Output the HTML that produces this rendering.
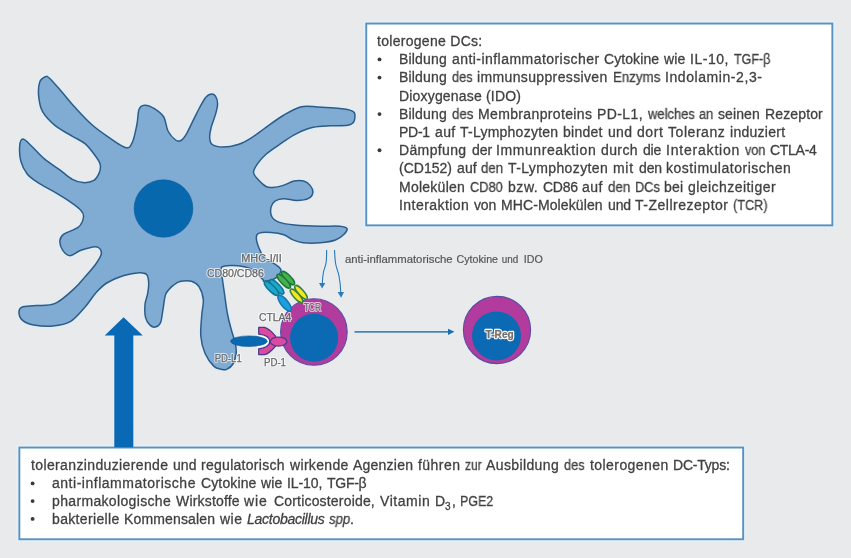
<!DOCTYPE html>
<html><head><meta charset="utf-8">
<style>
html,body{margin:0;padding:0;}
body{width:851px;height:558px;background:#e9eaec;overflow:hidden;position:relative;font-family:"Liberation Sans",sans-serif;}
svg{position:absolute;left:0;top:0;will-change:transform;}
.box{position:absolute;background:#fff;border:1.9px solid #5f98c4;box-sizing:border-box;box-shadow:0 0 0 1.6px rgba(226,242,252,.85);}
.ln{position:absolute;white-space:nowrap;color:#3f3f3f;font-size:14px;line-height:18px;will-change:transform;transform-origin:0 0;-webkit-text-stroke:0.3px #444;}
.bu{position:absolute;width:3.6px;height:3.6px;border-radius:50%;background:#3f3f3f;}
.lab{font-family:"Liberation Sans",sans-serif;font-size:10px;fill:#666;stroke:#666;stroke-width:.25px;}
.cap{font-family:"Liberation Sans",sans-serif;font-size:11.2px;fill:#555;stroke:#555;stroke-width:.2px;}
.halo{font-family:"Liberation Sans",sans-serif;font-size:10px;fill:#fff;stroke:#fff;stroke-width:2.2px;stroke-linejoin:round;stroke-opacity:.7;fill-opacity:.7;filter:blur(.3px);}
</style></head><body>
<svg width="851" height="558" viewBox="0 0 851 558">
<path d="M45.3 76.8C46.9 76.1 46.7 75.7 49.5 78.2C52.3 80.7 57.6 87.1 61.9 92.0C66.2 96.9 70.2 102.2 75.2 107.6C80.2 113.0 86.1 119.5 91.7 124.5C97.3 129.5 103.2 133.5 108.9 137.4C114.6 141.3 122.1 147.0 126.1 147.7C130.0 148.4 130.8 145.6 132.6 141.7C134.4 137.8 135.8 129.9 136.9 124.5C138.0 119.1 137.8 112.7 139.0 109.5C140.2 106.3 141.9 105.4 144.4 105.2C146.9 105.0 150.8 106.4 154.0 108.4C157.2 110.4 161.5 113.2 163.8 117.0C166.1 120.8 166.0 127.2 168.0 131.0C170.0 134.8 173.4 138.4 175.6 140.0C177.8 141.6 179.2 141.5 181.0 140.5C182.8 139.5 184.5 137.1 186.5 133.8C188.5 130.5 190.8 125.2 192.9 120.9C195.1 116.6 197.2 112.0 199.4 108.0C201.6 104.0 203.8 99.5 205.8 97.2C207.8 94.9 209.6 94.2 211.2 94.0C212.8 93.8 214.4 94.5 215.5 96.1C216.6 97.7 217.6 100.7 217.6 103.7C217.6 106.8 216.6 110.5 215.5 114.4C214.4 118.3 212.2 123.3 211.2 127.3C210.2 131.2 209.5 135.2 209.7 138.1C209.9 141.0 210.1 143.0 212.3 144.5C214.5 146.0 218.7 147.1 223.0 147.1C227.3 147.1 233.4 146.0 238.1 144.5C242.8 143.0 246.3 141.0 251.0 138.1C255.7 135.2 260.6 131.1 266.0 127.3C271.4 123.5 277.5 118.9 283.2 115.5C288.9 112.1 294.7 108.3 300.4 106.9C306.1 105.5 311.9 106.7 317.6 106.9C323.3 107.1 329.4 107.5 334.8 108.0C340.2 108.5 346.6 109.2 349.9 110.1C353.2 111.0 354.0 111.3 354.6 113.3C355.2 115.3 355.0 119.9 353.8 121.9C352.6 123.9 351.6 124.6 347.7 125.2C343.8 125.8 336.2 125.5 330.5 125.8C324.8 126.1 319.0 126.0 313.3 127.3C307.6 128.6 301.5 131.1 296.1 133.8C290.7 136.5 286.1 140.0 281.1 143.4C276.1 146.8 269.9 150.8 266.0 154.2C262.1 157.6 259.5 160.8 257.4 163.9C255.3 167.0 253.3 169.8 253.5 172.5C253.7 175.2 256.4 177.7 258.5 180.0C260.6 182.3 263.7 185.2 266.0 186.5C268.3 187.8 269.6 187.7 272.5 187.5C275.4 187.3 279.6 186.5 283.2 185.4C286.8 184.3 290.6 181.8 294.0 181.1C297.4 180.4 301.0 180.4 303.7 181.1C306.4 181.8 308.6 183.5 310.1 185.4C311.6 187.3 313.1 190.2 312.9 192.3C312.6 194.5 311.3 197.0 308.6 198.3C305.9 199.7 300.9 200.3 296.8 200.4C292.7 200.5 287.5 198.6 283.9 198.7C280.3 198.8 277.4 199.5 275.3 200.9C273.2 202.3 271.6 204.6 271.0 207.3C270.4 210.0 270.6 214.5 272.0 217.0C273.4 219.5 275.8 221.1 279.6 222.4C283.4 223.7 287.8 224.3 294.6 224.9C301.4 225.5 312.9 226.0 320.4 226.2C327.9 226.4 335.4 225.8 339.8 226.2C344.2 226.6 346.2 227.1 346.9 228.4C347.6 229.7 346.0 232.3 344.1 234.2C342.2 236.1 339.4 238.6 335.5 240.0C331.6 241.4 325.8 242.3 320.4 242.8C315.0 243.3 307.8 243.3 303.2 242.8C298.6 242.3 295.7 240.9 292.5 239.6C289.3 238.3 287.5 236.0 283.9 234.8C280.3 233.6 275.1 232.8 271.0 232.5C266.9 232.2 261.6 232.3 259.1 233.1C256.7 233.9 256.3 234.9 256.3 237.4C256.3 239.9 257.7 244.8 259.1 248.2C260.5 251.6 261.8 255.1 264.5 257.8C267.2 260.5 272.8 262.4 275.5 264.5C278.2 266.6 281.0 267.9 281.0 270.2C281.0 272.5 278.2 276.3 275.5 278.2C272.8 280.1 266.8 281.1 264.6 281.3C262.4 281.5 264.6 281.1 262.5 279.1C260.4 277.1 254.9 271.6 251.7 269.5C248.4 267.4 246.2 267.2 243.0 266.5C239.8 265.8 235.9 265.3 232.3 265.4C228.7 265.5 223.3 265.2 221.6 267.3C219.9 269.4 221.8 273.7 222.3 278.0C222.8 282.3 223.5 286.9 224.4 293.0C225.3 299.1 226.3 308.1 227.6 314.5C228.8 320.9 230.6 327.0 231.9 331.7C233.2 336.4 234.5 338.9 235.2 342.5C235.9 346.1 236.6 349.6 236.2 353.2C235.8 356.8 234.6 361.3 233.0 364.0C231.4 366.7 228.5 368.5 226.6 369.4C224.7 370.3 223.8 369.9 221.6 369.4C219.4 368.8 216.5 368.8 213.7 366.1C210.9 363.4 207.2 358.2 205.0 353.2C202.8 348.2 201.3 342.4 200.8 336.0C200.3 329.6 201.4 320.6 201.8 314.5C202.2 308.4 203.8 304.2 203.3 299.6C202.8 295.0 201.0 289.8 199.0 286.7C197.0 283.6 194.5 282.2 191.5 281.3C188.5 280.4 183.8 280.7 180.8 281.3C177.8 281.9 175.9 283.1 173.4 285.2C170.9 287.3 167.6 289.9 165.9 293.8C164.2 297.7 164.0 304.0 163.1 308.8C162.2 313.6 161.8 319.8 160.5 322.8C159.2 325.9 157.0 326.8 155.2 327.1C153.4 327.5 151.4 326.5 149.8 324.9C148.2 323.3 146.3 320.8 145.5 317.4C144.7 314.0 144.7 308.4 145.0 304.5C145.3 300.6 147.0 297.4 147.6 293.8C148.2 290.2 148.9 286.2 148.7 283.0C148.5 279.8 148.2 276.1 146.6 274.4C145.0 272.7 142.8 272.5 139.0 272.7C135.2 272.9 129.4 273.8 124.0 275.5C118.6 277.2 111.5 280.1 106.8 283.0C102.1 285.9 99.6 288.8 96.0 292.7C92.4 296.6 89.6 301.9 85.3 306.7C81.0 311.5 75.6 318.5 70.2 321.7C64.8 324.9 59.1 325.5 53.0 326.0C46.9 326.5 38.7 325.8 33.7 324.9C28.7 324.0 25.3 322.6 22.9 320.6C20.4 318.6 19.2 315.4 19.0 313.1C18.8 310.9 19.0 308.4 21.8 307.1C24.6 305.9 30.2 306.2 35.8 305.6C41.4 305.0 48.8 306.3 55.2 303.4C61.7 300.5 69.5 292.9 74.5 288.4C79.5 283.9 81.7 280.7 85.3 276.6C88.9 272.5 93.3 267.6 96.0 263.7C98.7 259.8 101.4 255.7 101.4 252.9C101.4 250.1 99.4 247.1 96.0 246.7C92.6 246.3 85.3 248.8 81.0 250.3C76.7 251.8 73.2 255.7 70.2 255.7C67.2 255.7 64.4 252.8 62.7 250.3C61.0 247.8 59.7 243.3 59.9 240.6C60.1 237.9 60.6 236.5 63.8 234.2C67.0 231.9 75.5 229.6 78.8 226.7C82.1 223.8 83.1 219.7 83.5 217.0C83.9 214.3 83.2 213.0 81.0 210.5C78.8 208.0 74.9 205.1 70.2 201.9C65.5 198.7 58.4 194.4 53.0 191.2C47.6 188.0 42.3 185.5 38.0 182.6C33.7 179.7 30.1 177.6 27.2 174.0C24.3 170.4 22.1 165.7 20.8 161.0C19.6 156.3 19.4 149.7 19.7 146.0C20.0 142.3 20.9 139.1 22.9 139.1C24.9 139.1 27.9 142.7 31.5 146.0C35.1 149.3 39.7 155.0 44.4 158.9C49.1 162.8 54.8 166.3 59.5 169.7C64.2 173.1 68.5 177.2 72.4 179.4C76.3 181.6 79.5 182.4 83.1 182.6C86.7 182.8 91.2 182.0 93.9 180.4C96.6 178.8 98.1 175.5 99.2 172.9C100.3 170.3 100.8 167.7 100.3 165.0C99.8 162.3 98.5 160.3 96.0 156.8C93.5 153.3 89.2 147.3 85.3 143.9C81.4 140.5 77.4 139.4 72.4 136.3C67.4 133.2 60.2 129.7 55.2 125.6C50.2 121.5 45.4 116.4 42.6 111.6C39.9 106.8 39.2 101.5 38.7 96.6C38.2 91.7 38.6 85.5 39.7 82.2C40.8 78.9 43.7 77.5 45.3 76.8Z" fill="none" stroke="#deedf8" stroke-width="4.4" stroke-opacity=".75" stroke-linejoin="round"/>
<path d="M45.3 76.8C46.9 76.1 46.7 75.7 49.5 78.2C52.3 80.7 57.6 87.1 61.9 92.0C66.2 96.9 70.2 102.2 75.2 107.6C80.2 113.0 86.1 119.5 91.7 124.5C97.3 129.5 103.2 133.5 108.9 137.4C114.6 141.3 122.1 147.0 126.1 147.7C130.0 148.4 130.8 145.6 132.6 141.7C134.4 137.8 135.8 129.9 136.9 124.5C138.0 119.1 137.8 112.7 139.0 109.5C140.2 106.3 141.9 105.4 144.4 105.2C146.9 105.0 150.8 106.4 154.0 108.4C157.2 110.4 161.5 113.2 163.8 117.0C166.1 120.8 166.0 127.2 168.0 131.0C170.0 134.8 173.4 138.4 175.6 140.0C177.8 141.6 179.2 141.5 181.0 140.5C182.8 139.5 184.5 137.1 186.5 133.8C188.5 130.5 190.8 125.2 192.9 120.9C195.1 116.6 197.2 112.0 199.4 108.0C201.6 104.0 203.8 99.5 205.8 97.2C207.8 94.9 209.6 94.2 211.2 94.0C212.8 93.8 214.4 94.5 215.5 96.1C216.6 97.7 217.6 100.7 217.6 103.7C217.6 106.8 216.6 110.5 215.5 114.4C214.4 118.3 212.2 123.3 211.2 127.3C210.2 131.2 209.5 135.2 209.7 138.1C209.9 141.0 210.1 143.0 212.3 144.5C214.5 146.0 218.7 147.1 223.0 147.1C227.3 147.1 233.4 146.0 238.1 144.5C242.8 143.0 246.3 141.0 251.0 138.1C255.7 135.2 260.6 131.1 266.0 127.3C271.4 123.5 277.5 118.9 283.2 115.5C288.9 112.1 294.7 108.3 300.4 106.9C306.1 105.5 311.9 106.7 317.6 106.9C323.3 107.1 329.4 107.5 334.8 108.0C340.2 108.5 346.6 109.2 349.9 110.1C353.2 111.0 354.0 111.3 354.6 113.3C355.2 115.3 355.0 119.9 353.8 121.9C352.6 123.9 351.6 124.6 347.7 125.2C343.8 125.8 336.2 125.5 330.5 125.8C324.8 126.1 319.0 126.0 313.3 127.3C307.6 128.6 301.5 131.1 296.1 133.8C290.7 136.5 286.1 140.0 281.1 143.4C276.1 146.8 269.9 150.8 266.0 154.2C262.1 157.6 259.5 160.8 257.4 163.9C255.3 167.0 253.3 169.8 253.5 172.5C253.7 175.2 256.4 177.7 258.5 180.0C260.6 182.3 263.7 185.2 266.0 186.5C268.3 187.8 269.6 187.7 272.5 187.5C275.4 187.3 279.6 186.5 283.2 185.4C286.8 184.3 290.6 181.8 294.0 181.1C297.4 180.4 301.0 180.4 303.7 181.1C306.4 181.8 308.6 183.5 310.1 185.4C311.6 187.3 313.1 190.2 312.9 192.3C312.6 194.5 311.3 197.0 308.6 198.3C305.9 199.7 300.9 200.3 296.8 200.4C292.7 200.5 287.5 198.6 283.9 198.7C280.3 198.8 277.4 199.5 275.3 200.9C273.2 202.3 271.6 204.6 271.0 207.3C270.4 210.0 270.6 214.5 272.0 217.0C273.4 219.5 275.8 221.1 279.6 222.4C283.4 223.7 287.8 224.3 294.6 224.9C301.4 225.5 312.9 226.0 320.4 226.2C327.9 226.4 335.4 225.8 339.8 226.2C344.2 226.6 346.2 227.1 346.9 228.4C347.6 229.7 346.0 232.3 344.1 234.2C342.2 236.1 339.4 238.6 335.5 240.0C331.6 241.4 325.8 242.3 320.4 242.8C315.0 243.3 307.8 243.3 303.2 242.8C298.6 242.3 295.7 240.9 292.5 239.6C289.3 238.3 287.5 236.0 283.9 234.8C280.3 233.6 275.1 232.8 271.0 232.5C266.9 232.2 261.6 232.3 259.1 233.1C256.7 233.9 256.3 234.9 256.3 237.4C256.3 239.9 257.7 244.8 259.1 248.2C260.5 251.6 261.8 255.1 264.5 257.8C267.2 260.5 272.8 262.4 275.5 264.5C278.2 266.6 281.0 267.9 281.0 270.2C281.0 272.5 278.2 276.3 275.5 278.2C272.8 280.1 266.8 281.1 264.6 281.3C262.4 281.5 264.6 281.1 262.5 279.1C260.4 277.1 254.9 271.6 251.7 269.5C248.4 267.4 246.2 267.2 243.0 266.5C239.8 265.8 235.9 265.3 232.3 265.4C228.7 265.5 223.3 265.2 221.6 267.3C219.9 269.4 221.8 273.7 222.3 278.0C222.8 282.3 223.5 286.9 224.4 293.0C225.3 299.1 226.3 308.1 227.6 314.5C228.8 320.9 230.6 327.0 231.9 331.7C233.2 336.4 234.5 338.9 235.2 342.5C235.9 346.1 236.6 349.6 236.2 353.2C235.8 356.8 234.6 361.3 233.0 364.0C231.4 366.7 228.5 368.5 226.6 369.4C224.7 370.3 223.8 369.9 221.6 369.4C219.4 368.8 216.5 368.8 213.7 366.1C210.9 363.4 207.2 358.2 205.0 353.2C202.8 348.2 201.3 342.4 200.8 336.0C200.3 329.6 201.4 320.6 201.8 314.5C202.2 308.4 203.8 304.2 203.3 299.6C202.8 295.0 201.0 289.8 199.0 286.7C197.0 283.6 194.5 282.2 191.5 281.3C188.5 280.4 183.8 280.7 180.8 281.3C177.8 281.9 175.9 283.1 173.4 285.2C170.9 287.3 167.6 289.9 165.9 293.8C164.2 297.7 164.0 304.0 163.1 308.8C162.2 313.6 161.8 319.8 160.5 322.8C159.2 325.9 157.0 326.8 155.2 327.1C153.4 327.5 151.4 326.5 149.8 324.9C148.2 323.3 146.3 320.8 145.5 317.4C144.7 314.0 144.7 308.4 145.0 304.5C145.3 300.6 147.0 297.4 147.6 293.8C148.2 290.2 148.9 286.2 148.7 283.0C148.5 279.8 148.2 276.1 146.6 274.4C145.0 272.7 142.8 272.5 139.0 272.7C135.2 272.9 129.4 273.8 124.0 275.5C118.6 277.2 111.5 280.1 106.8 283.0C102.1 285.9 99.6 288.8 96.0 292.7C92.4 296.6 89.6 301.9 85.3 306.7C81.0 311.5 75.6 318.5 70.2 321.7C64.8 324.9 59.1 325.5 53.0 326.0C46.9 326.5 38.7 325.8 33.7 324.9C28.7 324.0 25.3 322.6 22.9 320.6C20.4 318.6 19.2 315.4 19.0 313.1C18.8 310.9 19.0 308.4 21.8 307.1C24.6 305.9 30.2 306.2 35.8 305.6C41.4 305.0 48.8 306.3 55.2 303.4C61.7 300.5 69.5 292.9 74.5 288.4C79.5 283.9 81.7 280.7 85.3 276.6C88.9 272.5 93.3 267.6 96.0 263.7C98.7 259.8 101.4 255.7 101.4 252.9C101.4 250.1 99.4 247.1 96.0 246.7C92.6 246.3 85.3 248.8 81.0 250.3C76.7 251.8 73.2 255.7 70.2 255.7C67.2 255.7 64.4 252.8 62.7 250.3C61.0 247.8 59.7 243.3 59.9 240.6C60.1 237.9 60.6 236.5 63.8 234.2C67.0 231.9 75.5 229.6 78.8 226.7C82.1 223.8 83.1 219.7 83.5 217.0C83.9 214.3 83.2 213.0 81.0 210.5C78.8 208.0 74.9 205.1 70.2 201.9C65.5 198.7 58.4 194.4 53.0 191.2C47.6 188.0 42.3 185.5 38.0 182.6C33.7 179.7 30.1 177.6 27.2 174.0C24.3 170.4 22.1 165.7 20.8 161.0C19.6 156.3 19.4 149.7 19.7 146.0C20.0 142.3 20.9 139.1 22.9 139.1C24.9 139.1 27.9 142.7 31.5 146.0C35.1 149.3 39.7 155.0 44.4 158.9C49.1 162.8 54.8 166.3 59.5 169.7C64.2 173.1 68.5 177.2 72.4 179.4C76.3 181.6 79.5 182.4 83.1 182.6C86.7 182.8 91.2 182.0 93.9 180.4C96.6 178.8 98.1 175.5 99.2 172.9C100.3 170.3 100.8 167.7 100.3 165.0C99.8 162.3 98.5 160.3 96.0 156.8C93.5 153.3 89.2 147.3 85.3 143.9C81.4 140.5 77.4 139.4 72.4 136.3C67.4 133.2 60.2 129.7 55.2 125.6C50.2 121.5 45.4 116.4 42.6 111.6C39.9 106.8 39.2 101.5 38.7 96.6C38.2 91.7 38.6 85.5 39.7 82.2C40.8 78.9 43.7 77.5 45.3 76.8Z" fill="#80abd2" stroke="#2e5c86" stroke-width="1.5" stroke-linejoin="round"/>
<ellipse cx="163.5" cy="208.5" rx="29.4" ry="28.7" fill="#0768ae" stroke="#0a5f9f" stroke-width="0.6"/>
<!-- big arrow -->
<!-- boxes -->
<rect x="366.25" y="23.55" width="466.1" height="201.8" fill="#fff" stroke="#e2f1fb" stroke-width="5"/>
<rect x="366.25" y="23.55" width="466.1" height="201.8" fill="#fff" stroke="#5a92bf" stroke-width="1.9"/>
<rect x="19.35" y="447.55" width="723.8" height="91.7" fill="#fff" stroke="#e2f1fb" stroke-width="5"/>
<rect x="19.35" y="447.55" width="723.8" height="91.7" fill="#fff" stroke="#5a92bf" stroke-width="1.9"/>
<path d="M114.3 447.2V335.6H104.7L123.6 317.2L142.8 335.6H133.3V447.2Z" fill="#0a69b4"/>
<circle cx="379.5" cy="59.4" r="1.95" fill="#3a3a3a"/>
<circle cx="379.5" cy="77.6" r="1.95" fill="#3a3a3a"/>
<circle cx="379.5" cy="114.1" r="1.95" fill="#3a3a3a"/>
<circle cx="379.5" cy="150.3" r="1.95" fill="#3a3a3a"/>
<circle cx="32.6" cy="483.4" r="1.95" fill="#3a3a3a"/>
<circle cx="32.6" cy="501.1" r="1.95" fill="#3a3a3a"/>
<circle cx="32.6" cy="518.9" r="1.95" fill="#3a3a3a"/>
<!-- T cell -->
<circle cx="313.9" cy="332" r="33.3" fill="#b23c9d" stroke="#5a4ba3" stroke-width="1.1"/>
<circle cx="314.1" cy="337.7" r="24.1" fill="#0c69b3"/>
<!-- T reg -->
<circle cx="497" cy="330" r="33.6" fill="#b23c9d" stroke="#5a4ba3" stroke-width="1.1"/>
<circle cx="496.5" cy="335.9" r="24.5" fill="#0c69b3"/>
<!-- arrow -->
<path d="M354.5 331.85H449" stroke="#e3f0fa" stroke-width="3.4" stroke-opacity=".8" fill="none"/>
<path d="M354.5 331.85H449" stroke="#4f81b0" stroke-width="1.75" fill="none"/>
<path d="M448 328.7L454.4 331.85L448 335Z" fill="#1a6db3"/>
<!-- small arrows -->
<g fill="none" stroke="#e4f0fa" stroke-width="2.6" stroke-opacity=".7">
<path d="M326.6 250C326.6 256 326.6 259 326.2 262C325.5 267 324.2 268.8 323.6 271.5C322.7 275.5 322.4 279 322.3 284"/>
<path d="M334.5 250C334.8 256 335 259.5 335.5 263C336.3 268 338.1 271.5 338.9 275.5C340 281 340.6 286 340.8 292.5"/>
</g>
<g fill="none" stroke="#2b7bba" stroke-width="1.15">
<path d="M326.6 250C326.6 256 326.6 259 326.2 262C325.5 267 324.2 268.8 323.6 271.5C322.7 275.5 322.4 279 322.3 284"/>
<path d="M334.5 250C334.8 256 335 259.5 335.5 263C336.3 268 338.1 271.5 338.9 275.5C340 281 340.6 286 340.8 292.5"/>
</g>
<path d="M319 283H325.3L322.1 288.6Z" fill="#2b7bba"/>
<path d="M337.6 291.9H344L341.1 297.7Z" fill="#2b7bba"/>
<!-- molecules -->
<g stroke-width="1.45">
<ellipse cx="276.8" cy="286.8" rx="9.6" ry="3.1" transform="rotate(45.8 276.8 286.8)" fill="#1fa7cb" stroke="#0d7796"/>
<ellipse cx="271.6" cy="288.4" rx="9.6" ry="3.1" transform="rotate(44 271.6 288.4)" fill="#1fa7cb" stroke="#0d7796"/>
<ellipse cx="288" cy="278.1" rx="8.9" ry="2.9" transform="rotate(45 288 278.1)" fill="#45b04c" stroke="#1b7540"/>
<ellipse cx="283.7" cy="281.2" rx="9.2" ry="2.9" transform="rotate(45.8 283.7 281.2)" fill="#45b04c" stroke="#1b7540"/>
<ellipse cx="301" cy="292.4" rx="8.9" ry="2.8" transform="rotate(48.6 301 292.4)" fill="#f4e71e" stroke="#35803c"/>
<ellipse cx="296.5" cy="295.8" rx="8.8" ry="2.8" transform="rotate(47.8 296.5 295.8)" fill="#f4e71e" stroke="#35803c"/>
<ellipse cx="284.6" cy="303.2" rx="9.8" ry="3.6" transform="rotate(51.3 284.6 303.2)" fill="#1aa0dc" stroke="#1674b3"/>
</g>
<!-- PD-1 -->
<path d="M258.7 327.4H264.5C268 328.2 272.5 332.5 275.6 336.2V346C272.5 349.8 268 353.9 264.5 354.6H258.7V348.8C264 348.4 269.8 346 269.8 341.4C269.8 336.8 264 334.6 258.7 334.1Z" fill="#dc4aa0" stroke="#4b3a8c" stroke-width="1.25" stroke-linejoin="round"/>
<ellipse cx="278.5" cy="341.6" rx="8.3" ry="4.5" fill="#dc4aa0" stroke="#4b3a8c" stroke-width="1.25"/>
<!-- PD-L1 -->
<clipPath id="cpr"><rect x="257" y="330" width="20" height="24"/></clipPath>
<ellipse cx="248.9" cy="341.2" rx="18.6" ry="5.6" fill="none" stroke="#fff" stroke-width="2.4" clip-path="url(#cpr)"/>
<ellipse cx="248.9" cy="341.2" rx="18.3" ry="5.3" fill="#0869b1" stroke="#0a5a9c" stroke-width="0.6"/>
<!-- labels -->
<text class="halo" x="241.2" y="262.3" textLength="40.6" lengthAdjust="spacingAndGlyphs">MHC-I/II</text>
<text class="lab" x="241.2" y="262.3" textLength="40.6" lengthAdjust="spacingAndGlyphs">MHC-I/II</text>
<text class="halo" x="206.9" y="277.4" textLength="57.0" lengthAdjust="spacingAndGlyphs">CD80/CD86</text>
<text class="lab" x="206.9" y="277.4" textLength="57.0" lengthAdjust="spacingAndGlyphs">CD80/CD86</text>
<text class="halo" x="303.7" y="310.6" textLength="17.4" lengthAdjust="spacingAndGlyphs">TCR</text>
<text class="lab" x="303.7" y="310.6" textLength="17.4" lengthAdjust="spacingAndGlyphs">TCR</text>
<text class="halo" x="258.9" y="320.6" textLength="32.4" lengthAdjust="spacingAndGlyphs">CTLA4</text>
<text class="lab" x="258.9" y="320.6" textLength="32.4" lengthAdjust="spacingAndGlyphs">CTLA4</text>
<text class="halo" x="214.7" y="361.6" textLength="27.0" lengthAdjust="spacingAndGlyphs">PD-L1</text>
<text class="lab" x="214.7" y="361.6" textLength="27.0" lengthAdjust="spacingAndGlyphs">PD-L1</text>
<text class="halo" x="264.0" y="366.1" textLength="22.0" lengthAdjust="spacingAndGlyphs">PD-1</text>
<text class="lab" x="264.0" y="366.1" textLength="22.0" lengthAdjust="spacingAndGlyphs">PD-1</text>
<text class="halo" x="485.6" y="337.8" textLength="28.2" lengthAdjust="spacingAndGlyphs" style="font-weight:bold;stroke-opacity:1;fill-opacity:1;stroke-width:2.4px">T-Reg</text>
<text class="lab" x="485.6" y="337.8" textLength="28.2" lengthAdjust="spacingAndGlyphs" style="font-weight:bold;fill:#7b7068">T-Reg</text>
<text class="cap" x="344.9" y="262.5" textLength="107.8" lengthAdjust="spacingAndGlyphs">anti-inflammatorische</text>
<text class="cap" x="456.5" y="262.5" textLength="41.5" lengthAdjust="spacingAndGlyphs">Cytokine</text>
<text class="cap" x="501.8" y="262.5" textLength="16.5" lengthAdjust="spacingAndGlyphs">und</text>
<text class="cap" x="523.8" y="262.5" textLength="19.0" lengthAdjust="spacingAndGlyphs">IDO</text>
</svg>
<div class="ln" style="left:377.2px;top:31.9px;letter-spacing:0.29px;">tolerogene DCs:</div>
<div class="ln" style="left:399.3px;top:50.1px;letter-spacing:0.16px;">Bildung</div>
<div class="ln" style="left:451.8px;top:50.1px;letter-spacing:0.45px;">anti-inflammatorischer</div>
<div class="ln" style="left:604.1px;top:50.1px;letter-spacing:0.08px;">Cytokine</div>
<div class="ln" style="left:663.9px;top:50.1px;letter-spacing:0.16px;">wie</div>
<div class="ln" style="left:690.1px;top:50.1px;letter-spacing:0.53px;">IL-10,</div>
<div class="ln" style="left:733.8px;top:50.1px;letter-spacing:0.00px;transform:scaleX(0.891);">TGF-β</div>
<div class="ln" style="left:399.3px;top:68.3px;letter-spacing:0.16px;">Bildung</div>
<div class="ln" style="left:451.8px;top:68.3px;letter-spacing:0.00px;transform:scaleX(0.917);">des</div>
<div class="ln" style="left:477.2px;top:68.3px;letter-spacing:0.36px;">immunsuppressiven</div>
<div class="ln" style="left:612.6px;top:68.3px;letter-spacing:0.00px;transform:scaleX(0.952);">Enzyms</div>
<div class="ln" style="left:664.7px;top:68.3px;letter-spacing:0.57px;">Indolamin-2,3-</div>
<div class="ln" style="left:399.3px;top:86.5px;letter-spacing:0.18px;">Dioxygenase (IDO)</div>
<div class="ln" style="left:399.3px;top:104.8px;letter-spacing:0.16px;">Bildung</div>
<div class="ln" style="left:451.8px;top:104.8px;letter-spacing:0.00px;transform:scaleX(0.952);">des</div>
<div class="ln" style="left:478.0px;top:104.8px;letter-spacing:0.36px;">Membranproteins</div>
<div class="ln" style="left:597.0px;top:104.8px;letter-spacing:0.42px;">PD-L1,</div>
<div class="ln" style="left:647.8px;top:104.8px;letter-spacing:0.00px;transform:scaleX(0.927);">welches</div>
<div class="ln" style="left:699.4px;top:104.8px;letter-spacing:0.00px;transform:scaleX(0.912);">an</div>
<div class="ln" style="left:718.3px;top:104.8px;letter-spacing:0.09px;">seinen</div>
<div class="ln" style="left:764.8px;top:104.8px;letter-spacing:0.14px;">Rezeptor</div>
<div class="ln" style="left:399.3px;top:123.0px;letter-spacing:-0.25px;">PD-1</div>
<div class="ln" style="left:434.9px;top:123.0px;letter-spacing:0.38px;">auf</div>
<div class="ln" style="left:460.2px;top:123.0px;letter-spacing:0.24px;">T-Lymphozyten</div>
<div class="ln" style="left:563.2px;top:123.0px;letter-spacing:0.24px;">bindet</div>
<div class="ln" style="left:607.5px;top:123.0px;letter-spacing:0.31px;">und</div>
<div class="ln" style="left:636.5px;top:123.0px;letter-spacing:0.57px;">dort</div>
<div class="ln" style="left:667.6px;top:123.0px;letter-spacing:0.55px;">Toleranz</div>
<div class="ln" style="left:729.6px;top:123.0px;letter-spacing:0.27px;">induziert</div>
<div class="ln" style="left:399.3px;top:141.0px;letter-spacing:0.36px;">Dämpfung</div>
<div class="ln" style="left:471.5px;top:141.0px;letter-spacing:-0.04px;">der</div>
<div class="ln" style="left:496.3px;top:141.0px;letter-spacing:0.59px;">Immunreaktion</div>
<div class="ln" style="left:601.3px;top:141.0px;letter-spacing:0.39px;">durch</div>
<div class="ln" style="left:643.0px;top:141.0px;letter-spacing:-0.26px;">die</div>
<div class="ln" style="left:665.6px;top:141.0px;letter-spacing:0.80px;">Interaktion</div>
<div class="ln" style="left:744.5px;top:141.0px;letter-spacing:0.00px;transform:scaleX(0.904);">von</div>
<div class="ln" style="left:769.6px;top:141.0px;letter-spacing:-0.29px;">CTLA-4</div>
<div class="ln" style="left:399.3px;top:159.4px;letter-spacing:-0.00px;">(CD152)</div>
<div class="ln" style="left:456.9px;top:159.4px;letter-spacing:0.11px;">auf</div>
<div class="ln" style="left:481.4px;top:159.4px;letter-spacing:0.00px;transform:scaleX(0.946);">den</div>
<div class="ln" style="left:508.2px;top:159.4px;letter-spacing:0.38px;">T-Lymphozyten</div>
<div class="ln" style="left:613.1px;top:159.4px;letter-spacing:0.68px;">mit</div>
<div class="ln" style="left:638.5px;top:159.4px;letter-spacing:-0.15px;">den</div>
<div class="ln" style="left:666.1px;top:159.4px;letter-spacing:0.52px;">kostimulatorischen</div>
<div class="ln" style="left:399.3px;top:177.6px;letter-spacing:0.25px;">Molekülen</div>
<div class="ln" style="left:470.1px;top:177.6px;letter-spacing:0.00px;transform:scaleX(0.916);">CD80</div>
<div class="ln" style="left:507.6px;top:177.6px;letter-spacing:0.57px;">bzw.</div>
<div class="ln" style="left:542.6px;top:177.6px;letter-spacing:-0.25px;">CD86</div>
<div class="ln" style="left:582.1px;top:177.6px;letter-spacing:0.41px;">auf</div>
<div class="ln" style="left:607.5px;top:177.6px;letter-spacing:0.00px;transform:scaleX(0.959);">den</div>
<div class="ln" style="left:634.6px;top:177.6px;letter-spacing:0.00px;transform:scaleX(0.914);">DCs</div>
<div class="ln" style="left:664.2px;top:177.6px;letter-spacing:0.17px;">bei</div>
<div class="ln" style="left:688.1px;top:177.6px;letter-spacing:0.45px;">gleichzeitiger</div>
<div class="ln" style="left:399.3px;top:195.9px;letter-spacing:0.45px;">Interaktion</div>
<div class="ln" style="left:474.3px;top:195.9px;letter-spacing:-0.16px;">von</div>
<div class="ln" style="left:501.1px;top:195.9px;letter-spacing:0.10px;">MHC-Molekülen</div>
<div class="ln" style="left:607.5px;top:195.9px;letter-spacing:-0.15px;">und</div>
<div class="ln" style="left:635.1px;top:195.9px;letter-spacing:0.51px;">T-Zellrezeptor</div>
<div class="ln" style="left:733.3px;top:195.9px;letter-spacing:0.00px;transform:scaleX(0.905);">(TCR)</div>
<div class="ln" style="left:30.7px;top:456.1px;letter-spacing:0.37px;">toleranzinduzierende</div>
<div class="ln" style="left:172.8px;top:456.1px;letter-spacing:0.05px;">und</div>
<div class="ln" style="left:201.0px;top:456.1px;letter-spacing:0.28px;">regulatorisch</div>
<div class="ln" style="left:289.5px;top:456.1px;letter-spacing:0.33px;">wirkende</div>
<div class="ln" style="left:352.9px;top:456.1px;letter-spacing:0.23px;">Agenzien</div>
<div class="ln" style="left:417.8px;top:456.1px;letter-spacing:0.45px;">führen</div>
<div class="ln" style="left:464.9px;top:456.1px;letter-spacing:0.00px;transform:scaleX(0.858);">zur</div>
<div class="ln" style="left:486.3px;top:456.1px;letter-spacing:0.38px;">Ausbildung</div>
<div class="ln" style="left:564.1px;top:456.1px;letter-spacing:0.00px;transform:scaleX(0.917);">des</div>
<div class="ln" style="left:589.5px;top:456.1px;letter-spacing:0.43px;">tolerogenen</div>
<div class="ln" style="left:672.9px;top:456.1px;letter-spacing:-0.21px;">DC-Typs:</div>
<div class="ln" style="left:51.9px;top:474.1px;letter-spacing:0.52px;">anti-inflammatorische</div>
<div class="ln" style="left:200.5px;top:474.1px;letter-spacing:0.13px;">Cytokine</div>
<div class="ln" style="left:260.7px;top:474.1px;letter-spacing:0.09px;">wie</div>
<div class="ln" style="left:286.7px;top:474.1px;letter-spacing:-0.09px;">IL-10,</div>
<div class="ln" style="left:326.7px;top:474.1px;letter-spacing:-0.28px;">TGF-β</div>
<div class="ln" style="left:51.9px;top:491.8px;letter-spacing:0.34px;">pharmakologische</div>
<div class="ln" style="left:175.7px;top:491.8px;letter-spacing:0.18px;">Wirkstoffe</div>
<div class="ln" style="left:244.2px;top:491.8px;letter-spacing:0.90px;">wie</div>
<div class="ln" style="left:274.0px;top:491.8px;letter-spacing:0.18px;">Corticosteroide,</div>
<div class="ln" style="left:379.7px;top:491.8px;letter-spacing:0.55px;">Vitamin</div>
<div class="ln" style="left:434.7px;top:491.8px;letter-spacing:0.00px;">D</div>
<div class="ln" style="left:51.9px;top:509.6px;letter-spacing:0.35px;">bakterielle</div>
<div class="ln" style="left:124.3px;top:509.6px;letter-spacing:0.15px;">Kommensalen</div>
<div class="ln" style="left:220.2px;top:509.6px;letter-spacing:0.49px;">wie</div>
<div class="ln" style="left:246.6px;top:509.6px;letter-spacing:-0.26px;"><i>Lactobacillus</i></div>
<div class="ln" style="left:328.9px;top:509.6px;letter-spacing:0.00px;transform:scaleX(0.939);"><i>spp</i></div>
<div class="ln" style="left:350.3px;top:509.6px;letter-spacing:0.00px;">.</div>
<div class="ln" style="left:451.6px;top:491.8px;letter-spacing:0.00px;">,</div>
<div class="ln" style="left:459.7px;top:491.8px;letter-spacing:0.00px;transform:scaleX(0.889);">PGE2</div>
<div class="ln" style="left:445.0px;top:495.6px;letter-spacing:0.00px;"><span style='font-size:10px'>3</span></div>
</body></html>
